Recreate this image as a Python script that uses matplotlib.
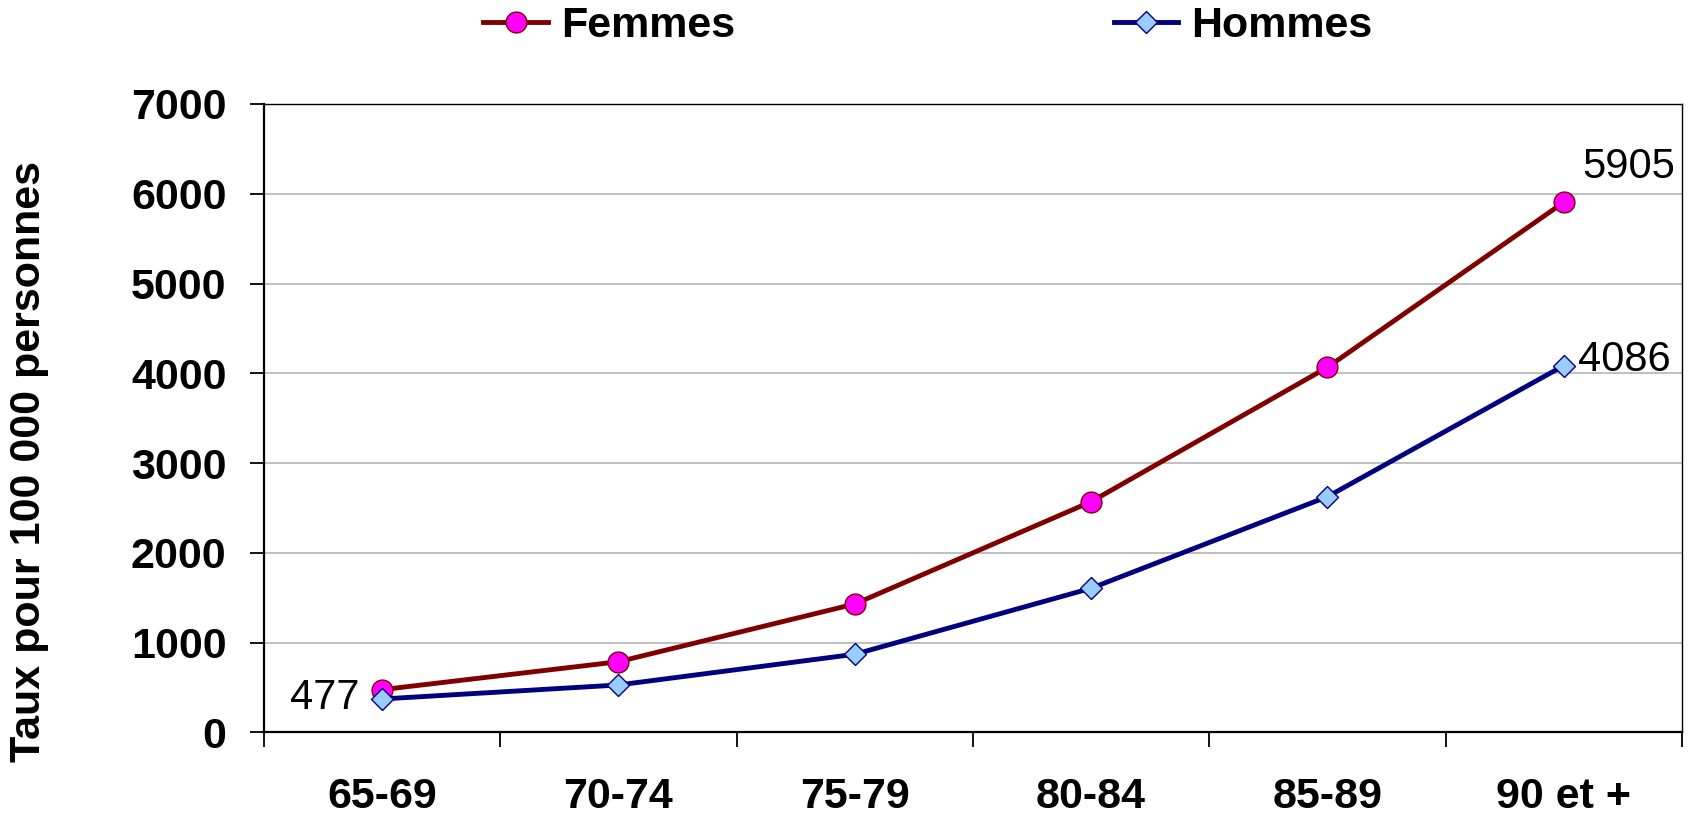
import matplotlib
matplotlib.use("Agg")
import matplotlib.pyplot as plt
from matplotlib.ticker import FixedLocator, NullFormatter, FixedFormatter

categories = ["65-69", "70-74", "75-79", "80-84", "85-89", "90 et +"]
femmes = [477, 788, 1431, 2570, 4067, 5905]
hommes = [373, 529, 871, 1606, 2626, 4086]
yticks = [0, 1000, 2000, 3000, 4000, 5000, 6000, 7000]

plt.rcParams['font.family'] = ['Liberation Sans', 'DejaVu Sans']

fig = plt.figure(figsize=(16.94, 8.23), dpi=100)
ax = fig.add_axes([0.1558, 0.110, 0.8371, 0.7637])

x = list(range(len(categories)))
lf, = ax.plot(x, femmes, color='#800000', lw=3.5, marker='o', ms=15,
              mfc='#ff00ff', mec='#800000', mew=1.0, label='Femmes', zorder=3)
lh, = ax.plot(x, hommes, color='#000080', lw=3.5, marker='D', ms=11.2,
              mfc='#99ccff', mec='#000080', mew=1.0, label='Hommes', zorder=3)

ax.set_xlim(-0.5, len(categories) - 0.5)
ax.set_ylim(0, 7000)
ax.set_yticks(yticks)
ax.set_yticklabels([str(v) for v in yticks], fontsize=31, fontweight='bold')
ax.yaxis.grid(True, color='#c0c0c0', lw=1.4)
ax.set_axisbelow(True)

ax.xaxis.set_major_locator(FixedLocator([i - 0.5 for i in range(len(categories) + 1)]))
ax.xaxis.set_major_formatter(NullFormatter())
ax.xaxis.set_minor_locator(FixedLocator(x))
ax.xaxis.set_minor_formatter(FixedFormatter(categories))
ax.tick_params(axis='x', which='major', length=11, width=1.3, direction='out')
ax.tick_params(axis='x', which='minor', length=0, pad=32, labelsize=31)
for t in ax.xaxis.get_minorticklabels():
    t.set_fontweight('bold')
ax.tick_params(axis='y', length=10, width=1.3, direction='out', pad=17)

for s in ['top', 'right']:
    ax.spines[s].set_linewidth(1.0)
for s in ['left', 'bottom']:
    ax.spines[s].set_linewidth(1.6)

fig.text(29 / 1694, 1 - 461 / 823, 'Taux pour 100 000 personnes', rotation=90,
         ha='center', va='center', fontsize=31, fontweight='bold')

ax.annotate(str(femmes[0]), (x[0], femmes[0]), xytext=(-16, -14), textcoords='offset points',
            ha='right', va='baseline', fontsize=30)
ax.annotate(str(femmes[-1]), (x[-1], femmes[-1]), xytext=(13.5, 17.5), textcoords='offset points',
            ha='left', va='baseline', fontsize=30)
ax.annotate(str(hommes[-1]), (x[-1], hommes[-1]), xytext=(10.5, -3.6), textcoords='offset points',
            ha='left', va='baseline', fontsize=30)

fig.legend(handles=[lf, lh], loc='center', bbox_to_anchor=(928 / 1694, 0.968), ncol=2, frameon=False,
           prop={'weight': 'bold', 'size': 31}, handlelength=1.5, columnspacing=8.8,
           handletextpad=0.3, markerscale=1.0)

fig.savefig('out.png', dpi=100)
